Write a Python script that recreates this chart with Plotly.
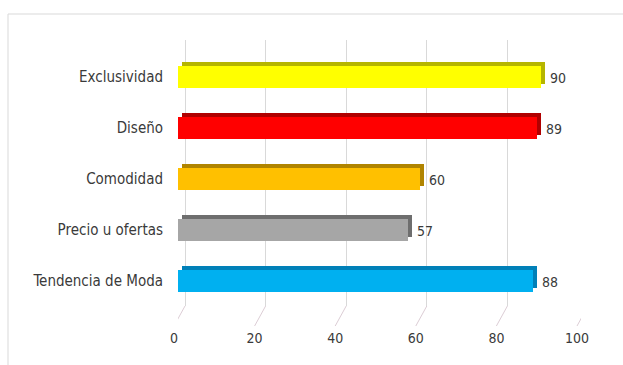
import plotly.graph_objects as go

# Survey factors (bottom to top) and their scores
categories = ["Tendencia de Moda", "Precio u ofertas", "Comodidad", "Diseño", "Exclusividad"]
values = [88, 57, 60, 89, 90]
front_colors = ["#00B0F0", "#A6A6A6", "#FFC000", "#FF0000", "#FFFF00"]
side_colors = ["#0080B8", "#6E6E6E", "#B08400", "#B00000", "#B5B500"]
tick_values = [0, 20, 40, 60, 80, 100]

W, H = 623, 365
ML, MR, MT, MB = 178, 42, 40, 59
plot_w = W - ML - MR
plot_h = H - MT - MB
units_per_px = 100 / plot_w

depth_px = 4            # extrusion depth of the 3D bars
bar_w = 0.45
cat_px = 51             # pixel spacing between categories
back_shift = 7          # back wall gridlines sit right of the front face
floor_drop = 20         # depth of the floor below the plot area

font = "DejaVu Sans Condensed, Roboto, sans-serif"
txt_color = "#3a3a3a"

fig = go.Figure()

# back (darker) face of each bar, giving the top and end sides
fig.add_trace(go.Bar(
    y=categories, x=values, base=depth_px * units_per_px, orientation="h",
    width=bar_w, offset=-bar_w / 2 + depth_px / cat_px,
    marker=dict(color=side_colors, line=dict(width=0)),
    showlegend=False, hoverinfo="skip",
))
# front face
fig.add_trace(go.Bar(
    y=categories, x=values, orientation="h",
    width=bar_w, offset=-bar_w / 2,
    marker=dict(color=front_colors, line=dict(width=0)),
    showlegend=False,
))
# invisible trace to carry the back-wall gridline axis
fig.add_trace(go.Scatter(x=[None], y=[None], xaxis="x2", yaxis="y", showlegend=False))

# value labels just past the end of each bar
for c, v in zip(categories, values):
    fig.add_annotation(x=v, y=c, xref="x", yref="y", text=str(v), showarrow=False,
                       xanchor="left", xshift=7, yshift=-1,
                       font=dict(family=font, size=14, color=txt_color))

# floor diagonals from the back wall down to the front edge
for t in tick_values:
    fig.add_shape(type="line", xref="x", yref="paper",
                  x0=t + back_shift * units_per_px, y0=0,
                  x1=t - 4 * units_per_px, y1=-floor_drop / plot_h,
                  line=dict(color="#dccdd5", width=1), layer="below")

# outer chart frame (top and left edges visible)
fig.add_shape(type="rect", xref="paper", yref="paper",
              x0=(8 - ML) / plot_w, x1=(W + 10 - ML) / plot_w,
              y0=-(H + 10 - MT - plot_h) / plot_h, y1=(H - MB - 14) / plot_h,
              line=dict(color="#d9d9d9", width=1), fillcolor="rgba(0,0,0,0)", layer="below")

fig.update_layout(
    width=W, height=H,
    margin=dict(l=ML, r=MR, t=MT, b=MB),
    paper_bgcolor="white", plot_bgcolor="white",
    barmode="overlay", bargap=0,
    xaxis=dict(range=[0, 100], tickvals=tick_values, showgrid=False, zeroline=False,
               showline=False, ticks="", ticklabelstandoff=22, ticklabelshift=-4,
               tickfont=dict(family=font, size=14, color=txt_color)),
    xaxis2=dict(overlaying="x", range=[-back_shift * units_per_px, 100 - back_shift * units_per_px],
                tickvals=tick_values, showgrid=True, gridcolor="#d9d9d9", gridwidth=1,
                showticklabels=False, zeroline=False, showline=False),
    yaxis=dict(type="category", categoryorder="array", categoryarray=categories,
               range=[-0.49, 4.725], showgrid=False, zeroline=False, showline=False,
               ticks="", ticklabelstandoff=14,
               tickfont=dict(family=font, size=15, color=txt_color)),
)

fig.write_html("out.html")
